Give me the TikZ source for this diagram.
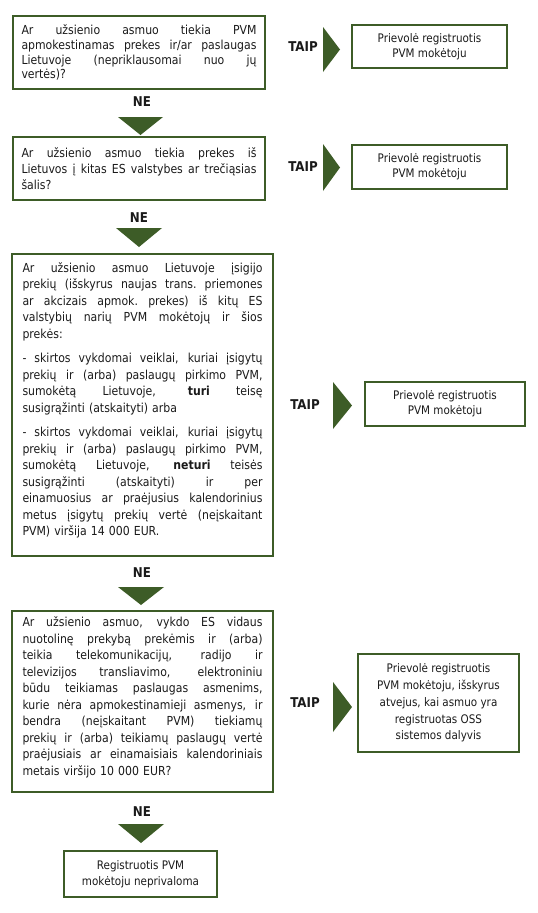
\documentclass[tikz,border=0pt]{standalone}
\usepackage{fontspec}
\setmainfont[FakeStretch=0.88]{DejaVu Sans}
\definecolor{vmigreen}{HTML}{3D5C27}
\definecolor{txt}{HTML}{1A1A1A}
\newlength{\tw}
\newcommand{\jl}[1]{\noindent\hbox to \tw{\spaceskip=3.1pt plus 1fil minus 1.4pt\xspaceskip=3.1pt plus 1fil minus 1.4pt\relax #1}\par}
\newcommand{\lastl}[1]{\noindent #1\par}
\begin{document}
\begin{tikzpicture}[x=1pt,y=-1pt,
  qbox/.style={draw=vmigreen, line width=2pt, rectangle, inner sep=0pt, text=txt,
    font=\fontsize{12.4}{16.5}\selectfont},
  rbox/.style={draw=vmigreen, line width=2pt, rectangle, inner sep=0pt, text=txt, align=center,
    font=\fontsize{11.8}{15}\selectfont},
  lbl/.style={inner sep=0pt, text=txt, font=\fontsize{13.5}{16}\selectfont\bfseries},
  trifill/.style={fill=vmigreen, draw=none}]
\useasboundingbox (0,0) rectangle (538,913);

% question boxes
\node[qbox, minimum width=252pt, minimum height=73pt, text width=235pt] (q1) at (139,52.5) {%
\fontsize{12.4}{14.8}\selectfont\setlength{\tw}{235pt}%
\jl{Ar užsienio asmuo tiekia PVM}
\jl{apmokestinamas prekes ir/ar paslaugas}
\jl{Lietuvoje (nepriklausomai nuo jų}
\lastl{vertės)?}};

\node[qbox, minimum width=252pt, minimum height=63pt, text width=235pt] (q2) at (139,168.5) {%
\fontsize{12.4}{16}\selectfont\setlength{\tw}{235pt}%
\jl{Ar užsienio asmuo tiekia prekes iš}
\jl{Lietuvos į kitas ES valstybes ar trečiąsias}
\lastl{šalis?}};

\node[qbox, minimum width=261pt, minimum height=302pt, text width=240pt] (q3) at (142.5,405) {%
\setlength{\tw}{240pt}%
\jl{Ar užsienio asmuo Lietuvoje įsigijo}
\jl{prekių (išskyrus naujas trans. priemones}
\jl{ar akcizais apmok. prekes) iš kitų ES}
\jl{valstybių narių PVM mokėtojų ir šios}
\lastl{prekės:}
\vspace{8pt}
\jl{- skirtos vykdomai veiklai, kuriai įsigytų}
\jl{prekių ir (arba) paslaugų pirkimo PVM,}
\jl{sumokėtą Lietuvoje, \textbf{turi} teisę}
\lastl{susigrąžinti (atskaityti) arba}
\vspace{8pt}
\jl{- skirtos vykdomai veiklai, kuriai įsigytų}
\jl{prekių ir (arba) paslaugų pirkimo PVM,}
\jl{sumokėtą Lietuvoje, \textbf{neturi} teisės}
\jl{susigrąžinti (atskaityti) ir per}
\jl{einamuosius ar praėjusius kalendorinius}
\jl{metus įsigytų prekių vertė (neįskaitant}
\lastl{PVM) viršija 14 000 EUR.}
\vspace{9pt}};

\node[qbox, minimum width=261pt, minimum height=181pt, text width=240pt] (q4) at (142.5,701.5) {%
\setlength{\tw}{240pt}%
\jl{Ar užsienio asmuo, vykdo ES vidaus}
\jl{nuotolinę prekybą prekėmis ir (arba)}
\jl{teikia telekomunikacijų, radijo ir}
\jl{televizijos transliavimo, elektroniniu}
\jl{būdu teikiamas paslaugas asmenims,}
\jl{kurie nėra apmokestinamieji asmenys, ir}
\jl{bendra (neįskaitant PVM) tiekiamų}
\jl{prekių ir (arba) teikiamų paslaugų vertė}
\jl{praėjusiais ar einamaisiais kalendoriniais}
\lastl{metais viršijo 10 000 EUR?}
\vspace{8pt}};

% result boxes
\node[rbox, minimum width=155pt, minimum height=43pt] (r1) at (429.5,46.5)
  {Prievolė registruotis\\PVM mokėtoju};
\node[rbox, minimum width=155pt, minimum height=44pt] (r2) at (429.5,167)
  {Prievolė registruotis\\PVM mokėtoju};
\node[rbox, minimum width=160pt, minimum height=44pt] (r3) at (445,404)
  {Prievolė registruotis\\PVM mokėtoju};
\node[rbox, minimum width=161pt, minimum height=98pt, font=\fontsize{11.8}{16.8}\selectfont] (r4) at (438.5,703)
  {Prievolė registruotis\\PVM mokėtoju, išskyrus\\atvejus, kai asmuo yra\\registruotas OSS\\sistemos dalyvis};
\node[rbox, minimum width=153pt, minimum height=46pt, font=\fontsize{11.8}{16}\selectfont] (fin) at (140.5,874)
  {Registruotis PVM\\mokėtoju neprivaloma};

% labels
\node[lbl] (t1) at (303,47) {TAIP};
\node[lbl] (t2) at (303,167) {TAIP};
\node[lbl] (t3) at (305,405) {TAIP};
\node[lbl] (t4) at (305,703) {TAIP};
\node[lbl] (n1) at (142,102) {NE};
\node[lbl] (n2) at (139,218) {NE};
\node[lbl] (n3) at (142,573) {NE};
\node[lbl] (n4) at (142,812) {NE};

% right arrows
\fill[trifill] (323,27) -- (340,49.5) -- (323,72) -- cycle;
\fill[trifill] (323,144) -- (340,167.5) -- (323,191) -- cycle;
\fill[trifill] (333,382) -- (352,405.5) -- (333,429) -- cycle;
\fill[trifill] (333,682) -- (352,707) -- (333,732) -- cycle;

% down arrows
\fill[trifill] (118,117) -- (163,117) -- (140.5,135) -- cycle;
\fill[trifill] (116,228) -- (162,228) -- (139,247) -- cycle;
\fill[trifill] (118,587) -- (164,587) -- (141,605) -- cycle;
\fill[trifill] (118,824) -- (164,824) -- (141,843) -- cycle;
\end{tikzpicture}
\end{document}
